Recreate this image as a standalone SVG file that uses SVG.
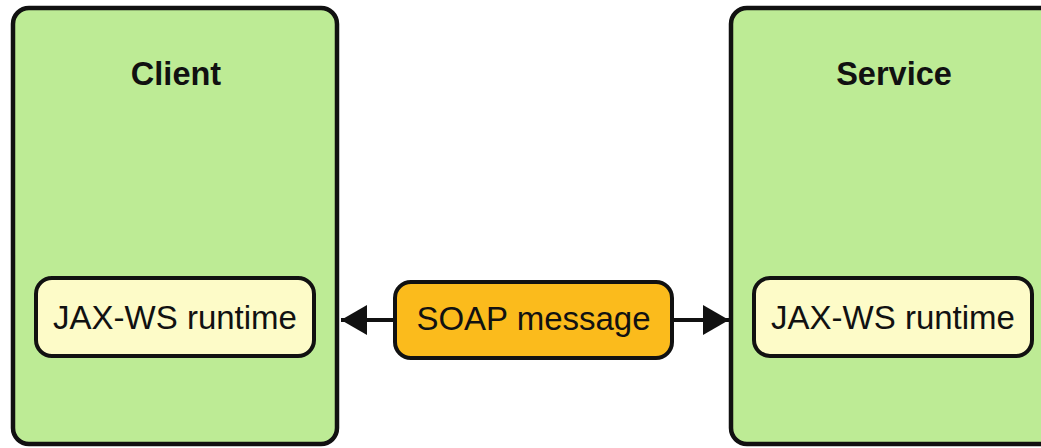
<svg xmlns="http://www.w3.org/2000/svg" width="1041" height="448" viewBox="0 0 1041 448">
<defs>
<style>
.outer{fill:#bdeb95;stroke:#111;stroke-width:4.5}
.inner{fill:#fdfbc8;stroke:#111;stroke-width:4}
.msg{fill:#fbbb1c;stroke:#111;stroke-width:4}
.title{font-family:"Liberation Sans",Arial,sans-serif;font-weight:bold;font-size:32.5px;fill:#111;text-anchor:middle}
.lbl{font-family:"Liberation Sans",Arial,sans-serif;font-size:33px;fill:#111;text-anchor:middle}
.conn{stroke:#111;stroke-width:4;fill:none}
</style>
<marker id="ah" viewBox="0 0 10 10" refX="10" refY="5" markerWidth="26" markerHeight="30" markerUnits="userSpaceOnUse" orient="auto" preserveAspectRatio="none">
<path d="M0,0 L10,5 L0,10 Z" fill="#111"/>
</marker>
</defs>
<rect width="1041" height="448" fill="#fff"/>
<g id="client">
<rect class="outer" x="13" y="8" width="324" height="436" rx="16"/>
<text class="title" x="176" y="85">Client</text>
</g>
<g id="client-runtime">
<rect class="inner" x="36" y="278" width="278" height="78" rx="16"/>
<text class="lbl" x="175" y="328.5">JAX-WS runtime</text>
</g>
<g id="service">
<rect class="outer" x="731" y="8" width="340" height="436" rx="16"/>
<text class="title" x="894" y="85">Service</text>
</g>
<g id="service-runtime">
<rect class="inner" x="754" y="278" width="278" height="78" rx="16"/>
<text class="lbl" x="893" y="328.5">JAX-WS runtime</text>
</g>
<g id="soap">
<rect class="msg" x="395" y="282" width="277" height="76" rx="16"/>
<text class="lbl" x="533.5" y="329.5">SOAP message</text>
</g>
<g id="connectors">
<line class="conn" x1="395" y1="320" x2="341" y2="320" marker-end="url(#ah)"/>
<line class="conn" x1="672" y1="320" x2="729" y2="320" marker-end="url(#ah)"/>
</g>
</svg>
